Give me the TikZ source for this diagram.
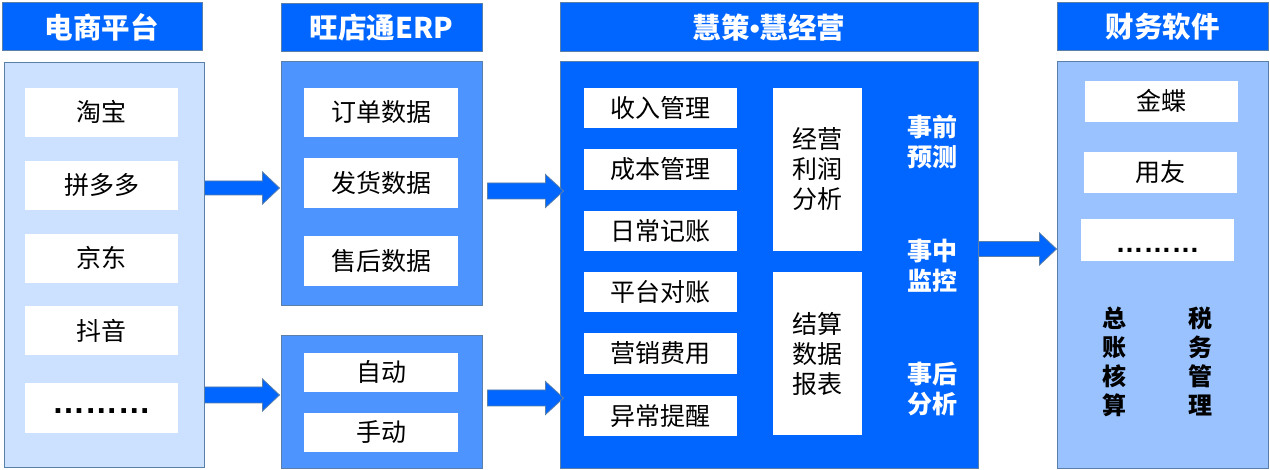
\documentclass[tikz,border=0pt]{standalone}
\usepackage{fontspec}
\setmainfont{Noto Sans CJK SC}
\newfontfamily\latinf{Liberation Sans}
\usetikzlibrary{calc}
\definecolor{hblue}{HTML}{0066FF}
\definecolor{pcA}{HTML}{CCE0FF}
\definecolor{pcB}{HTML}{4D94FF}
\definecolor{pcD}{HTML}{99C2FF}
\definecolor{edgec}{HTML}{5A7FA8}
\tikzset{
 hdr/.style={fill=hblue, draw=edgec, line width=1pt, text=white, font=\fontsize{28.5}{32}\selectfont\bfseries, inner sep=0pt},
 panel/.style={draw=edgec, line width=1pt, inner sep=0pt},
 item/.style={fill=white, draw=none, inner sep=0pt, font=\fontsize{25}{30}\selectfont, text height=22pt, text depth=3pt},
 tallbox/.style={fill=white, draw=none, inner sep=0pt, font=\fontsize{25}{30}\selectfont, align=center},
 sidelbl/.style={text=white, font=\fontsize{25}{30}\selectfont\bfseries, align=center, inner sep=0pt},
 vertlbl/.style={text=black, font=\fontsize{24}{29}\selectfont\bfseries, align=center, inner sep=0pt},
 barrow/.style={fill=hblue, draw=edgec, line width=0.8pt},
}
\newcommand\blkarrow[5]{%
 \path[barrow] let \p1=(#1), \p2=(#2) in
  (\x1,\y1+#3pt) -- (\x2-#5pt,\y1+#3pt) -- (\x2-#5pt,\y1+#4pt) -- (\x2,\y1)
  -- (\x2-#5pt,\y1-#4pt) -- (\x2-#5pt,\y1-#3pt) -- (\x1,\y1-#3pt) -- cycle;}
\begin{document}
\begin{tikzpicture}[x=1pt,y=-1pt]
\fill[white] (0,0) rectangle (1270,470);
\useasboundingbox (0,0) rectangle (1270,470);
% headers
\node[hdr, minimum width=200pt, minimum height=48pt] (H1) at (102,27) {电商平台};
\node[hdr, minimum width=201pt, minimum height=48pt] (H2) at (381.5,28) {旺店通ERP};
\node[hdr, minimum width=418pt, minimum height=49pt] (H3) at (769,27.5) {慧策{\latinf\bfseries •}慧经营};
\node[hdr, minimum width=211pt, minimum height=48pt] (H4) at (1162.5,27) {财务软件};
% panels
\node[panel, fill=pcA, minimum width=200pt, minimum height=404pt] (P1) at (104,265) {};
\node[panel, fill=pcB, minimum width=201pt, minimum height=244pt] (P2a) at (381.5,184) {};
\node[panel, fill=pcB, minimum width=201pt, minimum height=132pt] (P2b) at (381.5,402) {};
\node[panel, fill=hblue, minimum width=418pt, minimum height=406pt] (P3) at (769,265) {};
\node[panel, fill=pcD, minimum width=211pt, minimum height=406pt] (P4) at (1162.5,265) {};
% column 1 items
\node[item, minimum width=153pt, minimum height=49pt] (c1a) at (101.5,112.5) {淘宝};
\node[item, minimum width=153pt, minimum height=49pt] (c1b) at (101.5,185.5) {拼多多};
\node[item, minimum width=153pt, minimum height=49pt] (c1c) at (101.5,258.5) {京东};
\node[item, minimum width=153pt, minimum height=49pt] (c1d) at (101.5,331) {抖音};
\node[item, minimum width=153pt, minimum height=50pt] (c1e) at (101.5,408) {\raisebox{4pt}{\latinf\bfseries\fontsize{33}{33}\selectfont ………}};
% column 2 items
\node[item, minimum width=154pt, minimum height=49pt] (c2a) at (381,112.5) {订单数据};
\node[item, minimum width=154pt, minimum height=50pt] (c2b) at (381,183) {发货数据};
\node[item, minimum width=154pt, minimum height=50pt] (c2c) at (381,261) {售后数据};
\node[item, minimum width=154pt, minimum height=39pt] (c2d) at (381,372.5) {自动};
\node[item, minimum width=154pt, minimum height=39pt] (c2e) at (381,432.5) {手动};
% column 3 items
\node[item, minimum width=153pt, minimum height=40pt] (c3a) at (660.5,108) {收入管理};
\node[item, minimum width=153pt, minimum height=41pt] (c3b) at (660.5,169.5) {成本管理};
\node[item, minimum width=153pt, minimum height=40pt] (c3c) at (660.5,231) {日常记账};
\node[item, minimum width=153pt, minimum height=40pt] (c3d) at (660.5,292) {平台对账};
\node[item, minimum width=153pt, minimum height=41pt] (c3e) at (660.5,353.5) {营销费用};
\node[item, minimum width=153pt, minimum height=40pt] (c3f) at (660.5,416) {异常提醒};
\node[tallbox, minimum width=89pt, minimum height=163pt] (c3g) at (817.5,169.5) {经营\\利润\\分析};
\node[tallbox, minimum width=89pt, minimum height=163pt] (c3h) at (817.5,353.5) {结算\\数据\\报表};
\node[sidelbl] (s1) at (932,142) {事前\\预测};
\node[sidelbl] (s2) at (932,266) {事中\\监控};
\node[sidelbl] (s3) at (932,389) {事后\\分析};
% column 4 items
\node[item, minimum width=153pt, minimum height=41pt] (c4a) at (1161.5,101.5) {金蝶};
\node[item, minimum width=153pt, minimum height=41pt] (c4b) at (1160.5,172.5) {用友};
\node[item, minimum width=153pt, minimum height=42pt] (c4c) at (1157.5,240) {\raisebox{-3pt}{\latinf\bfseries\fontsize{28}{28}\selectfont ………}};
\node[vertlbl] (v1) at (1114,361.5) {总\\账\\核\\算};
\node[vertlbl] (v2) at (1200,361.5) {税\\务\\管\\理};
% arrows
\coordinate (a1s) at (P1.east |- 0,188);
\coordinate (a1e) at ($(P2a.west |- 0,188)+(-1,0)$);
\coordinate (a2s) at (P1.east |- 0,395);
\coordinate (a2e) at ($(P2b.west |- 0,395)+(-1,0)$);
\coordinate (a3s) at ($(P2a.east |- 0,191)+(5,0)$);
\coordinate (a3e) at ($(P3.west |- 0,191)+(4,0)$);
\coordinate (a4s) at ($(P2b.east |- 0,398)+(5,0)$);
\coordinate (a4e) at ($(P3.west |- 0,398)+(4,0)$);
\coordinate (a5s) at (P3.east |- 0,249);
\coordinate (a5e) at (P4.west |- 0,249);
\blkarrow{a1s}{a1e}{7}{16}{17}
\blkarrow{a2s}{a2e}{8}{16}{17}
\blkarrow{a3s}{a3e}{8}{16.5}{18}
\blkarrow{a4s}{a4e}{8}{16.5}{18}
\blkarrow{a5s}{a5e}{7.5}{16}{17}
\end{tikzpicture}
\end{document}
